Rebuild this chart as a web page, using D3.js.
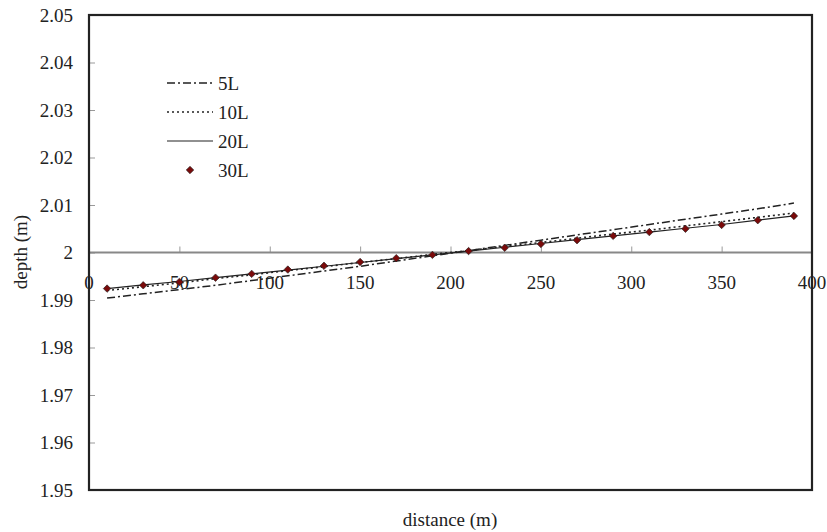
<!DOCTYPE html>
<html><head><meta charset="utf-8">
<script src="https://cdn.jsdelivr.net/npm/d3@7/dist/d3.min.js"></script>
<style>
html,body{margin:0;padding:0;background:#fff;}
text{font-family:"Liberation Serif","Times New Roman",serif;fill:#222;}
</style></head>
<body><svg id="chart" width="827" height="532"></svg>
<script>
const distance = [10,30,50,70,90,110,130,150,170,190,210,230,250,270,290,310,330,350,370,390];
const depth5L  = [1.9904,1.9913,1.9922,1.9931,1.9941,1.9951,1.9961,1.9971,1.9982,1.9993,2.0004,2.0015,2.0026,2.0037,2.0048,2.0059,2.0070,2.0081,2.0092,2.0104];
const depth10L = [1.9920,1.9928,1.9936,1.9945,1.9953,1.9962,1.9970,1.9979,1.9987,1.9996,2.0004,2.0013,2.0021,2.0030,2.0039,2.0047,2.0056,2.0065,2.0074,2.0083];
const depth20L = [1.9924,1.9932,1.9939,1.9947,1.9955,1.9963,1.9971,1.9979,1.9987,1.9995,2.0003,2.0011,2.0019,2.0027,2.0035,2.0043,2.0051,2.0059,2.0068,2.0077];
const depth30L = [1.9924,1.9931,1.9938,1.9947,1.9955,1.9964,1.9972,1.9980,1.9988,1.9995,2.0003,2.0010,2.0018,2.0026,2.0035,2.0043,2.0050,2.0058,2.0068,2.0077];
const xTicks = [0,50,100,150,200,250,300,350,400];
const yTicks = [1.95,1.96,1.97,1.98,1.99,2,2.01,2.02,2.03,2.04,2.05];
const seriesNames = ["5L","10L","20L","30L"];

const svg = d3.select("#chart");
const L = 89, R = 812, T = 15, B = 490;
const FS = 19;
const x = d3.scaleLinear().domain([0,400]).range([L,R]);
const y = d3.scaleLinear().domain([1.95,2.05]).range([B,T]);

// y axis (ticks inside, labels outside)
const yAxis = svg.append("g").attr("transform",`translate(${L},0)`)
  .call(d3.axisRight(y).tickValues(yTicks).tickSize(6).tickFormat(""));
yAxis.select(".domain").remove();
yAxis.selectAll("line").attr("stroke","#999");
svg.append("g").selectAll("text").data(yTicks).join("text")
  .attr("x",73).attr("y",d=>y(d)).attr("dy","0.35em")
  .attr("text-anchor","end").attr("font-size",FS)
  .text(d=>d3.format("")(+d.toFixed(2)));

// x axis at depth = 2
const xAxis = svg.append("g").attr("transform",`translate(0,${y(2)})`)
  .call(d3.axisTop(x).tickValues(xTicks.slice(1,-1)).tickSize(6).tickFormat(""));
xAxis.select(".domain").remove();
xAxis.selectAll("line").attr("stroke","#999");
svg.append("line").attr("x1",L).attr("x2",R).attr("y1",y(2)).attr("y2",y(2))
  .attr("stroke","#888").attr("stroke-width",2);
svg.append("g").selectAll("text").data(xTicks).join("text")
  .attr("x",d=>x(d)).attr("y",y(2)+30).attr("dy","0.35em")
  .attr("text-anchor","middle").attr("font-size",FS).text(d=>d);

// lines
const mk = arr => d3.line().x((d,i)=>x(distance[i])).y(d=>y(d))(arr);
svg.append("path").attr("d",mk(depth5L)).attr("fill","none").attr("stroke","#222")
  .attr("stroke-width",1.5).attr("stroke-dasharray","8,3,2,3");
svg.append("path").attr("d",mk(depth10L)).attr("fill","none").attr("stroke","#222")
  .attr("stroke-width",1.6).attr("stroke-dasharray","2,3");
svg.append("path").attr("d",mk(depth20L)).attr("fill","none").attr("stroke","#222")
  .attr("stroke-width",1.2);
const diamond = d3.symbol().type(d3.symbolSquare).size(28);
svg.append("g").selectAll("path").data(depth30L).join("path")
  .attr("d",diamond).attr("transform",(d,i)=>`translate(${x(distance[i])},${y(d)}) rotate(45)`)
  .attr("fill","#7a0a0a").attr("stroke","#222").attr("stroke-width",0.6);

// border
svg.append("rect").attr("x",L).attr("y",T).attr("width",R-L).attr("height",B-T)
  .attr("fill","none").attr("stroke","#222").attr("stroke-width",2.2);

// legend
const lg = svg.append("g");
const ly = [83,112,141,170];
const styles = [{dash:"8,3,2,3",w:1.5},{dash:"2,3",w:1.6},{dash:null,w:1.2}];
styles.forEach((s,i)=>{
  lg.append("line").attr("x1",167).attr("x2",213).attr("y1",ly[i]).attr("y2",ly[i])
    .attr("stroke","#222").attr("stroke-width",s.w).attr("stroke-dasharray",s.dash);
});
lg.append("path").attr("d",diamond).attr("transform",`translate(190,${ly[3]}) rotate(45)`)
  .attr("fill","#7a0a0a").attr("stroke","#222").attr("stroke-width",0.6);
lg.selectAll("text").data(seriesNames).join("text")
  .attr("x",218).attr("y",(d,i)=>ly[i]).attr("dy","0.35em")
  .attr("font-size",FS).text(d=>d);

// axis titles
svg.append("text").attr("x",450).attr("y",519).attr("dy","0.35em").attr("text-anchor","middle")
  .attr("font-size",FS).text("distance (m)");
svg.append("text").attr("transform","translate(20,252) rotate(-90)").attr("dy","0.35em")
  .attr("text-anchor","middle").attr("font-size",FS).text("depth (m)");
</script></body></html>
